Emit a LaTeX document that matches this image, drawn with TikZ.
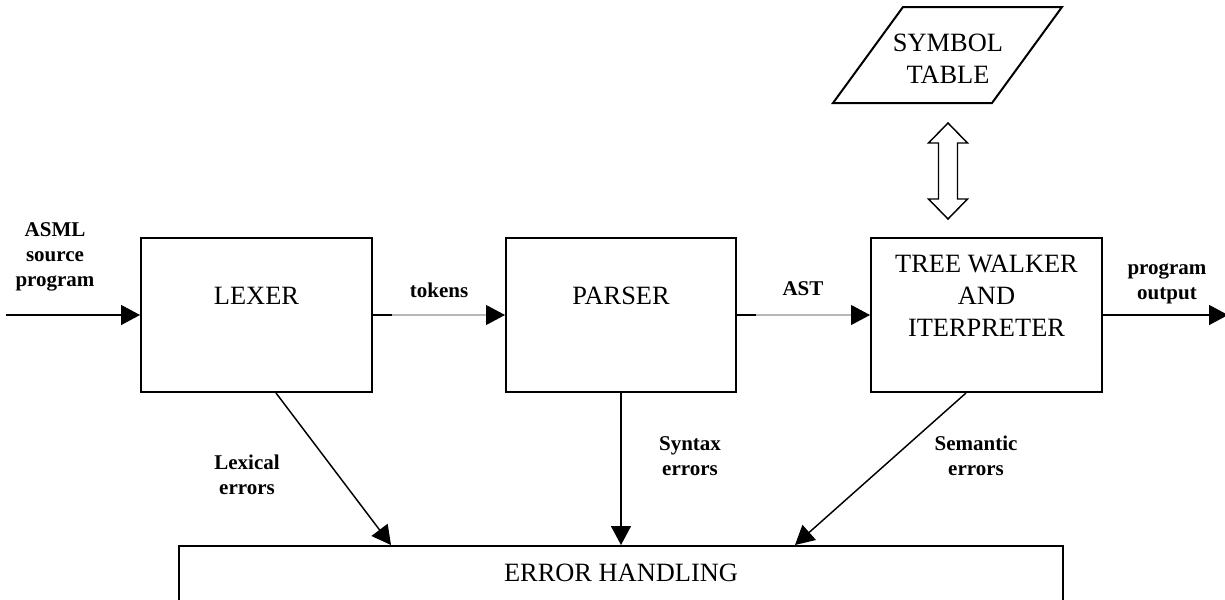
\documentclass[tikz,border=0pt]{standalone}
\usepackage{fontspec}
\setmainfont{Liberation Serif}
\usetikzlibrary{arrows.meta,calc}
\newcommand{\pu}{0.75pt}
\begin{document}
\begin{tikzpicture}[x=0.75pt,y=-0.75pt,
  box/.style={draw,line width=1.5pt,minimum width=231*\pu,minimum height=154*\pu,inner sep=0pt},
  boxtext/.style={inner sep=0pt,align=center,font=\fontsize{19.8pt}{24pt}\selectfont},
  lbl/.style={inner sep=0pt,align=center,font=\fontsize{15.75pt}{18.75pt}\selectfont\bfseries},
  flow/.style={line width=1.1pt,-{Triangle[length=14.25pt,width=15pt]}},
  faint/.style={draw=black!28,line width=0.8pt,-{Triangle[length=14.25pt,width=15pt,color=black]}}]
\clip (0,0) rectangle (1225,600);
\useasboundingbox (0,0) rectangle (1225,600);
\fill[white] (0,0) rectangle (1225,600);

% processing stages
\node[box] (lex) at (256.5,315) {};
\node[box,minimum width=230*\pu] (par) at (621,315) {};
\node[box] (tree) at (986.5,315) {};
\node[draw,line width=1.5pt,minimum width=884*\pu,minimum height=104*\pu,inner sep=0pt] (err) at (621,598) {};

\node[boxtext] at (256.5,296) {LEXER};
\node[boxtext] at (621,296) {PARSER};
\node[boxtext] at (986.5,296) {TREE WALKER\\AND\\ITERPRETER};
\node[boxtext] at (621,573) {ERROR HANDLING};

% symbol table (parallelogram)
\draw[line width=1.5pt] (833,103) -- (903,7) -- (1062,7) -- (992,103) -- cycle;
\node[boxtext] (sym) at (948,59) {SYMBOL\\TABLE};

% two-way hollow arrow between symbol table and tree walker
\coordinate (dbl) at (948,171);
\draw[line width=1.1pt,fill=white,shift={(dbl)}]
  (0,-48) -- (19.5,-28) -- (9.5,-28) -- (9.5,28) -- (19.5,28) -- (0,48)
  -- (-19.5,28) -- (-9.5,28) -- (-9.5,-28) -- (-19.5,-28) -- cycle;

% main data flow
\coordinate (src) at (6,315);
\coordinate (out) at (1228,315);
\draw[flow] (src) -- (lex.west);
\draw[faint] (lex.east) -- (par.west);
\draw[line width=1.1pt] (lex.east) -- ++(19,0);
\draw[faint] (par.east) -- (tree.west);
\draw[line width=1.1pt] (par.east) -- ++(19,0);
\draw[flow] (tree.east) -- (out);

% error reporting
\draw[flow] ([xshift=19.5*\pu]lex.south) -- ([xshift=-230*\pu]err.north);
\draw[flow] (par.south) -- (err.north);
\draw[flow] ([xshift=-20.5*\pu]tree.south) -- ([xshift=174*\pu]err.north);

% labels
\node[lbl] at (55,257) {ASML\\source\\program};
\node[lbl] at (439,290) {tokens};
\node[lbl] at (803,289) {AST};
\node[lbl] at (1167,284) {program\\output};
\node[lbl] at (247,475) {Lexical\\errors};
\node[lbl] at (690,456) {Syntax\\errors};
\node[lbl] at (976,456) {Semantic\\errors};
\end{tikzpicture}
\end{document}
